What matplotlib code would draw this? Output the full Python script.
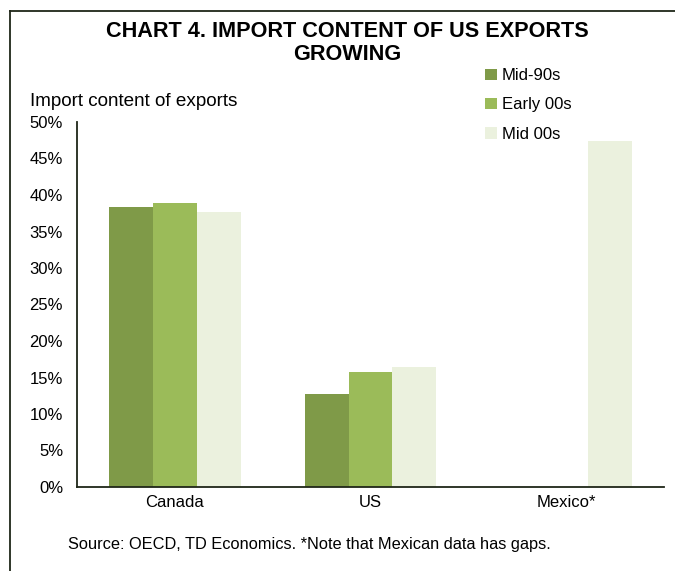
import numpy as np
import matplotlib
matplotlib.use("Agg")
import matplotlib.pyplot as plt
from matplotlib.lines import Line2D

countries = ["Canada", "US", "Mexico*"]
mid90s = [38.4, 12.7, np.nan]
early00s = [38.9, 15.7, np.nan]
mid00s = [37.7, 16.4, 47.4]
series_names = ["Mid-90s", "Early 00s", "Mid 00s"]
colors = ["#7F9A48", "#9BBB59", "#EBF1DE"]
yticks = [0, 5, 10, 15, 20, 25, 30, 35, 40, 45, 50]

plt.rcParams["font.family"] = ["Liberation Sans", "DejaVu Sans"]

fig = plt.figure(figsize=(6.75, 5.71), dpi=100)
ax = fig.add_axes([77/675, 1-487/571, (664-77)/675, (487-122)/571])

x = np.arange(len(countries))
w = 0.224
for i, (vals, name, c) in enumerate(zip([mid90s, early00s, mid00s], series_names, colors)):
    ax.bar(x + (i-1)*w, vals, w, color=c, label=name)

ax.set_xlim(-0.5, 2.5)
ax.set_ylim(0, 50)
ax.set_yticks(yticks)
ax.set_yticklabels([f"{t}%" for t in yticks])
ax.set_xticks(x)
ax.set_xticklabels(countries)
ax.tick_params(length=0, labelsize=12, pad=6)
ax.tick_params(axis="y", pad=10)
for s in ["top", "right"]:
    ax.spines[s].set_visible(False)
for s in ["left", "bottom"]:
    ax.spines[s].set_color("#1f2618")
    ax.spines[s].set_linewidth(1.3)

ax.legend(loc="upper left", bbox_to_anchor=(477/675, 1-60/571), bbox_transform=fig.transFigure,
          frameon=False, fontsize=12, handlelength=0.7, handleheight=0.7,
          handletextpad=0.3, labelspacing=0.85, borderpad=0)

fig.text(347/675, 1-43/571, "CHART 4. IMPORT CONTENT OF US EXPORTS\nGROWING", ha="center", va="center",
         fontsize=15.6, fontweight="bold", linespacing=1.12)
fig.text(30/675, 1-102/571, "Import content of exports", ha="left", va="center", fontsize=13.6)
fig.text(68/675, 1-545/571, "Source: OECD, TD Economics. *Note that Mexican data has gaps.",
         ha="left", va="center", fontsize=11.75)

# frame around the chart
fig.add_artist(Line2D([10/675, 10/675], [0, 1-11/571], color="#1f2618", lw=1.3))
fig.add_artist(Line2D([10/675, 1], [1-11/571, 1-11/571], color="#1f2618", lw=1.3))

fig.savefig("out.png", dpi=100)
